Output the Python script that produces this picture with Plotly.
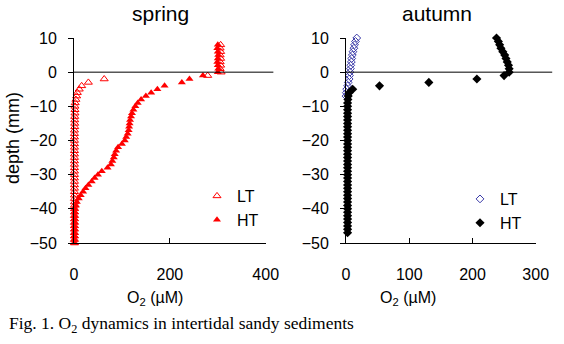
import plotly.graph_objects as go

# ---------------- data ----------------
# spring, LT (open red triangles)
sp_lt_depth = [8, 7, 6, 5, 4, 3, 2, 1, 0, -1, -2, -3, -4, -5, -6, -7, -8, -9, -10,
               -11, -12, -13, -14, -15, -16, -17, -18, -19, -20,
               -21, -22, -23, -24, -25, -26, -27, -28, -29, -30,
               -31, -32, -33, -34, -35, -36, -37, -38, -39, -40,
               -41, -42, -43, -44, -45, -46, -47, -48, -49, -50]
sp_lt_o2 = [306, 305, 306, 305, 306, 305, 306, 305, 307, 279, 63, 30, 16, 11, 7, 5.5, 4, 2.5, 2,
            2, 2, 1.5, 1.5, 1.5, 1.5, 1, 1, 1, 1,
            1, 1, 1, 1, 1, 1, 1, 1, 1, 1,
            1, 1, 1, 1, 1, 1, 1, 1, 1, 1,
            1, 1, 1, 1, 1, 1, 1, 1, 1, 1]

# spring, HT (filled red triangles)
sp_ht_depth = [8, 7, 6, 5, 4, 3, 2, 1, 0, -1, -2, -3, -4, -5, -6, -7, -8, -9, -10,
               -11, -12, -13, -14, -15, -16, -17, -18, -19, -20,
               -21, -22, -23, -24, -25, -26, -27, -28, -29, -30,
               -31, -32, -33, -34, -35, -36, -37, -38, -39, -40,
               -41, -42, -43, -44, -45, -46, -47, -48, -49, -50]
sp_ht_o2 = [300, 299, 300, 301, 300, 299, 300, 301, 300, 269, 241, 225, 189, 174, 161, 150, 140, 133, 128,
            124, 121, 119, 117, 116, 115, 114, 112, 109, 106,
            100, 92, 88, 85, 83, 80, 77, 70, 58, 50,
            43, 37, 30, 24, 19, 14, 10, 6, 4, 2,
            2, 1.5, 1.5, 1.5, 1, 1, 1, 1, 1, 1]

# autumn, LT (open blue diamonds)
au_lt_depth = [10, 9, 8, 7, 6, 5, 4, 3, 2, 1, 0, -1, -2, -3, -4, -5, -6, -7]
au_lt_o2 = [17, 15, 13.5, 12.5, 11, 10, 9, 8.5, 7.5, 7, 6.3, 5.5, 5, 3.5, 2.5, 1, 0.5, 0]

# autumn, HT (filled black diamonds)
au_ht_depth = [10, 9, 8, 7, 6, 5, 4, 3, 2, 1, 0, -1, -2, -3, -4, -5, -6, -7, -8, -9, -10,
               -11, -12, -13, -14, -15, -16, -17, -18, -19, -20,
               -21, -22, -23, -24, -25, -26, -27, -28, -29, -30,
               -31, -32, -33, -34, -35, -36, -37, -38, -39, -40,
               -41, -42, -43, -44, -45, -46, -47]
au_ht_o2 = [238, 241, 243, 245, 248, 251, 253, 255, 257, 258, 258, 250, 207, 131, 53, 10.6, 5, 3.5, 3, 2.5, 2.5,
            2.5, 2.5, 2.5, 2.5, 2.5, 2.5, 2.5, 2.5, 2.5, 2.5,
            2.5, 2.5, 2.5, 2.5, 2.5, 2.5, 2.5, 2.5, 2.5, 2.5,
            2.5, 2.5, 2.5, 2.5, 2.5, 2.5, 2.5, 2.5, 2.5, 2.5,
            2.5, 2.5, 2.5, 2.5, 2.5, 2.5, 2.5]

panel_titles = ["spring", "autumn"]
series_names = ["LT", "HT"]
x_title = "O<sub>2</sub> (µM)"
y_title = "depth (mm)"
caption = "Fig. 1. O<sub>2</sub> dynamics in intertidal sandy sediments"

# ---------------- figure ----------------
W, H = 564, 344
RED = "#ff0000"
BLUE = "#3a3aa8"

fig = go.Figure()
fig.add_trace(go.Scatter(x=sp_lt_o2, y=sp_lt_depth, mode="markers", name=series_names[0],
                         marker=dict(symbol="triangle-up-open", size=7, color=RED, line=dict(width=1, color=RED)),
                         xaxis="x", yaxis="y", cliponaxis=False, legend="legend"))
fig.add_trace(go.Scatter(x=sp_ht_o2, y=sp_ht_depth, mode="markers", name=series_names[1],
                         marker=dict(symbol="triangle-up", size=7, color=RED, line=dict(width=0)),
                         xaxis="x", yaxis="y", cliponaxis=False, legend="legend"))
fig.add_trace(go.Scatter(x=au_lt_o2, y=au_lt_depth, mode="markers", name=series_names[0],
                         marker=dict(symbol="diamond-open", size=6, color=BLUE, line=dict(width=1, color=BLUE)),
                         xaxis="x2", yaxis="y2", cliponaxis=False, legend="legend2"))
fig.add_trace(go.Scatter(x=au_ht_o2, y=au_ht_depth, mode="markers", name=series_names[1],
                         marker=dict(symbol="diamond", size=7, color="black", line=dict(width=0)),
                         xaxis="x2", yaxis="y2", cliponaxis=False, legend="legend2"))

def px_x(p):
    return p / W

def px_y(p):
    return 1 - p / H

ydom = [px_y(243), px_y(38)]
sans = "Liberation Sans, Arial, sans-serif"
tickfont = dict(family=sans, size=16, color="black")
axcommon = dict(showgrid=False, zeroline=False, showline=True, linecolor="black", linewidth=1,
                tickcolor="black", ticklen=5, tickwidth=1, tickfont=tickfont, automargin=False)

fig.update_layout(
    width=W, height=H, margin=dict(l=0, r=0, t=0, b=0, pad=0),
    paper_bgcolor="white", plot_bgcolor="white",
    xaxis=dict(domain=[px_x(74), px_x(265.7)], range=[0, 400], dtick=200, ticks="inside",
               anchor="y", ticklabelstandoff=17, **axcommon),
    yaxis=dict(domain=ydom, range=[-50, 10], dtick=10, ticks="outside", anchor="x",
               ticklabelstandoff=8, **axcommon),
    xaxis2=dict(domain=[px_x(346), px_x(535.7)], range=[0, 300], dtick=100, ticks="inside",
                anchor="y2", ticklabelstandoff=17, **axcommon),
    yaxis2=dict(domain=ydom, range=[-50, 10], dtick=10, ticks="outside", anchor="x2",
                ticklabelstandoff=8, **axcommon),
    legend=dict(x=px_x(197), y=px_y(179), xanchor="left", yanchor="top",
                bgcolor="rgba(0,0,0,0)", borderwidth=0,
                font=dict(family=sans, size=16, color="black")),
    legend2=dict(x=px_x(460), y=px_y(182), xanchor="left", yanchor="top",
                 bgcolor="rgba(0,0,0,0)", borderwidth=0,
                 font=dict(family=sans, size=16, color="black")),
    showlegend=True,
)

# y = 0 reference lines
fig.add_shape(type="line", xref="x domain", yref="y", x0=0, x1=1.04, y0=0, y1=0,
              line=dict(color="black", width=1))
fig.add_shape(type="line", xref="x2 domain", yref="y2", x0=0, x1=1.087, y0=0, y1=0,
              line=dict(color="black", width=1))

common = dict(xref="paper", yref="paper", showarrow=False, xanchor="center", yanchor="middle")
ann = []
ann.append(dict(text=panel_titles[0], x=px_x(160), y=px_y(14), font=dict(family=sans, size=21, color="black"), **common))
ann.append(dict(text=panel_titles[1], x=px_x(437), y=px_y(14), font=dict(family=sans, size=21, color="black"), **common))
ann.append(dict(text=x_title, x=px_x(155), y=px_y(298), font=dict(family=sans, size=16, color="black"), **common))
ann.append(dict(text=x_title, x=px_x(408), y=px_y(298), font=dict(family=sans, size=16, color="black"), **common))
ann.append(dict(text=y_title, x=px_x(13), y=px_y(138), textangle=-90, font=dict(family=sans, size=18, color="black"), **common))
ann.append(dict(text=caption, x=px_x(7), y=px_y(324), xref="paper", yref="paper",
                xanchor="left", yanchor="middle", showarrow=False,
                font=dict(family="Liberation Serif, Times New Roman, serif", size=17.5, color="black")))
fig.update_layout(annotations=ann)

fig.write_html("out.html")
